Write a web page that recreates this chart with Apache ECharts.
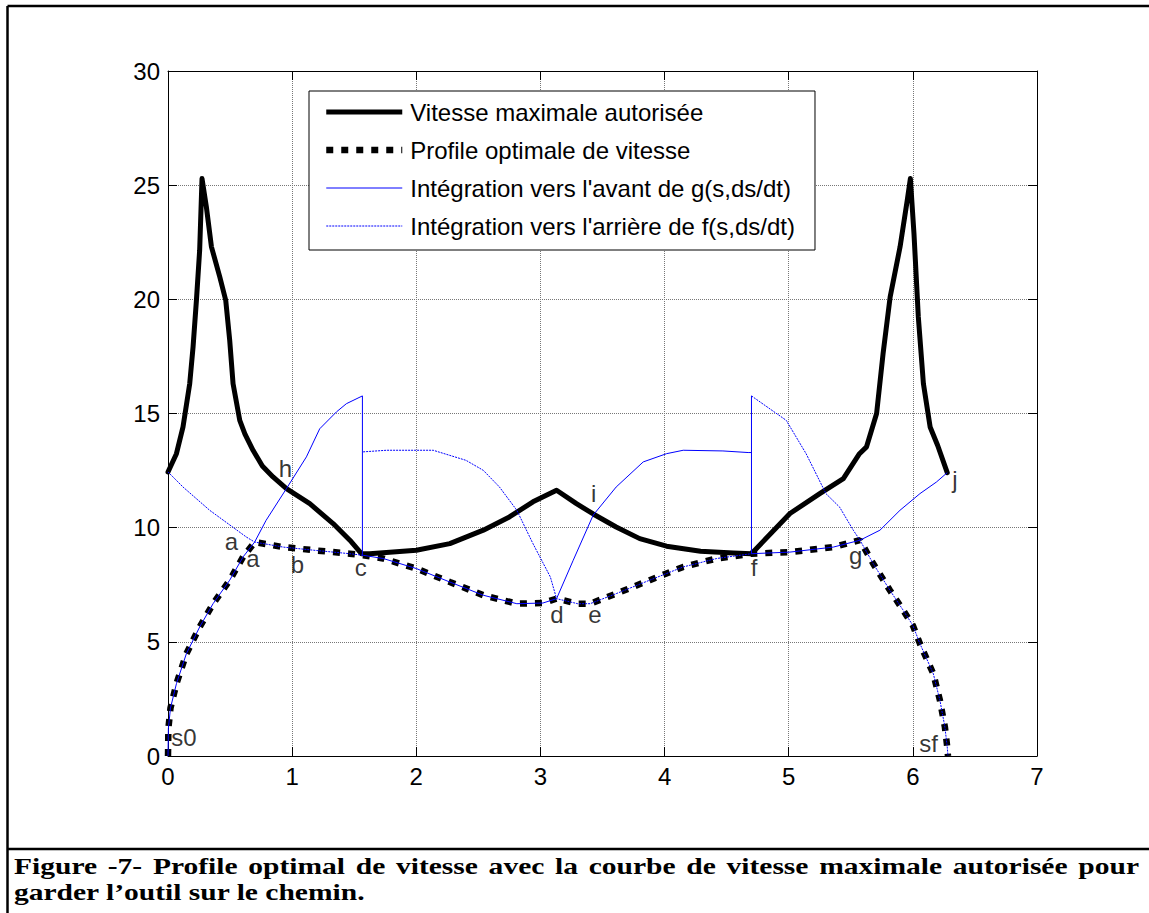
<!DOCTYPE html>
<html>
<head>
<meta charset="utf-8">
<script src="https://cdn.jsdelivr.net/npm/echarts@6/dist/echarts.min.js"></script>
<style>
  html, body { margin: 0; padding: 0; background: #fff; }
  #chart { width: 1149px; height: 913px; }
</style>
</head>
<body>
<div id="chart"></div>
<script>
// Abscisse curviligne s et vitesse ds/dt, couples [s, v]

// Vitesse maximale autorisée
const vitesseMax = [
  [0, 12.44], [0.068, 13.24], [0.121, 14.41], [0.175, 16.31], [0.202, 17.92],
  [0.229, 19.96], [0.255, 22.15], [0.274, 25.29], [0.309, 24.05], [0.35, 22.3],
  [0.417, 20.98], [0.465, 19.96], [0.497, 18.21], [0.524, 16.31], [0.578, 14.7],
  [0.62, 14.1], [0.685, 13.39], [0.76, 12.7], [0.846, 12.22], [0.954, 11.71],
  [1.142, 11.05], [1.33, 10.18], [1.465, 9.45], [1.558, 8.86], [1.625, 8.86],
  [2.0, 9.01], [2.27, 9.3], [2.54, 9.89], [2.75, 10.47], [2.94, 11.13],
  [3.13, 11.64], [3.29, 11.05], [3.425, 10.6], [3.61, 10.03], [3.8, 9.52],
  [4.016, 9.19], [4.29, 8.97], [4.553, 8.89], [4.7, 8.86], [5.01, 10.62],
  [5.25, 11.49], [5.44, 12.15], [5.57, 13.24], [5.627, 13.54], [5.708, 15.0],
  [5.76, 17.62], [5.817, 20.1], [5.897, 22.3], [5.955, 24.34], [5.98, 25.29],
  [6.009, 22.88], [6.044, 19.23], [6.085, 16.31], [6.139, 14.41], [6.2, 13.6],
  [6.277, 12.41]
];

// Profil optimal de vitesse
const profilOptimal = [
  [0, 0], [0.003, 1.2], [0.02, 2.1], [0.068, 3.17], [0.148, 4.48], [0.255, 5.65],
  [0.363, 6.67], [0.497, 7.7], [0.605, 8.72], [0.698, 9.37], [0.927, 9.15],
  [1.196, 9.0], [1.464, 8.86], [1.572, 8.79], [1.733, 8.65], [2.0, 8.21],
  [2.27, 7.62], [2.54, 7.04], [2.81, 6.67], [3.02, 6.7], [3.13, 6.89],
  [3.3, 6.67], [3.4, 6.67], [3.61, 7.11], [3.88, 7.7], [4.15, 8.28],
  [4.42, 8.65], [4.7, 8.86], [5.01, 8.93], [5.36, 9.15], [5.574, 9.45],
  [5.68, 8.43], [5.815, 7.26], [5.92, 6.4], [6.0, 5.72], [6.057, 4.92],
  [6.165, 3.6], [6.218, 2.44], [6.258, 1.27], [6.277, 0.39], [6.283, 0]
];

// Intégration vers l'avant : s0 -> a -> h -> saut en c
const avant1 = [
  [0, 0], [0.003, 1.2], [0.02, 2.1], [0.068, 3.17], [0.148, 4.48], [0.255, 5.65],
  [0.363, 6.67], [0.497, 7.7], [0.605, 8.72], [0.698, 9.37], [0.79, 10.32],
  [0.954, 11.71], [1.115, 13.1], [1.222, 14.33], [1.357, 15.07], [1.437, 15.43],
  [1.566, 15.77], [1.566, 8.79]
];
// c -> d -> i -> palier avant f
const avant2 = [
  [1.572, 8.79], [1.733, 8.65], [2.0, 8.21], [2.27, 7.62], [2.54, 7.04],
  [2.81, 6.67], [3.02, 6.7], [3.13, 6.89], [3.264, 8.57], [3.425, 10.55],
  [3.61, 11.78], [3.828, 12.88], [4.016, 13.24], [4.15, 13.39], [4.47, 13.36],
  [4.673, 13.29], [4.7, 13.29]
];
// saut en f -> g -> j
const avant3 = [
  [4.7, 15.77], [4.7, 8.86], [5.01, 8.93], [5.36, 9.15], [5.574, 9.45],
  [5.735, 9.89], [5.896, 10.76], [6.057, 11.49], [6.19, 12.0], [6.277, 12.41]
];

// Intégration vers l'arrière : départ s=0 -> a -> b -> c
const arriere1 = [
  [0, 12.44], [0.121, 11.78], [0.336, 10.76], [0.631, 9.59], [0.698, 9.37],
  [0.927, 9.15], [1.196, 9.0], [1.464, 8.86], [1.572, 8.79]
];
// palier après c -> d -> e -> f
const arriere2 = [
  [1.572, 13.32], [1.76, 13.39], [2.136, 13.39], [2.4, 12.95], [2.54, 12.51],
  [2.67, 11.78], [2.81, 10.76], [2.94, 9.3], [3.08, 7.84], [3.13, 6.89],
  [3.3, 6.67], [3.4, 6.67], [3.61, 7.11], [3.88, 7.7], [4.15, 8.28],
  [4.42, 8.65], [4.7, 8.86]
];
// après f -> g -> sf
const arriere3 = [
  [4.7, 15.77], [4.98, 14.7], [5.14, 13.24], [5.3, 11.49], [5.41, 10.9],
  [5.52, 9.89], [5.574, 9.45], [5.68, 8.43], [5.815, 7.26], [5.92, 6.4],
  [6.0, 5.72], [6.057, 4.92], [6.165, 3.6], [6.218, 2.44], [6.258, 1.27],
  [6.277, 0.39], [6.283, 0]
];

// Points remarquables du profil
const pointNames = ['a', 'a', 'b', 'c', 'h', 'i', 'd', 'e', 's0', 'f', 'g', 'sf', 'j'];
const pointS = [0.511, 0.685, 1.043, 1.553, 0.946, 3.428, 3.132, 3.438, 0.129, 4.722, 5.54, 6.127, 6.339];
const pointV = [9.38, 8.66, 8.40, 8.27, 12.60, 11.49, 6.20, 6.18, 0.83, 8.25, 8.78, 0.54, 12.1];

// Graduations
const xMin = 0, xMax = 7, xStep = 1;
const yMin = 0, yMax = 30, yStep = 5;

const seriesNames = [
  'Vitesse maximale autorisée',
  'Profile optimale de vitesse',
  "Intégration vers l'avant de g(s,ds/dt)",
  "Intégration vers l'arrière de f(s,ds/dt)"
];

const captionLine1 = 'Figure -7- Profile optimal de vitesse avec la courbe de vitesse maximale autorisée pour';
const captionLine2 = 'garder l’outil sur le chemin.';

const SANS = 'Liberation Sans';
const SERIF = 'Liberation Serif';
const BLUE = '#0000ff';

const styleMax = { color: '#000', width: 5, type: 'solid', cap: 'round', join: 'round' };
const styleOpt = { color: '#000', width: 6.5, type: [7, 8], cap: 'butt' };
const styleAvant = { color: BLUE, width: 1, type: 'solid' };
const styleArriere = { color: BLUE, width: 1, type: [2, 1] };
const lineStyles = [styleMax, styleOpt, styleAvant, styleArriere];

function lineSeries(idx, data) {
  return {
    type: 'line', name: seriesNames[idx], data, symbol: 'none', smooth: false,
    lineStyle: lineStyles[idx], itemStyle: { color: lineStyles[idx].color },
    silent: true, animation: false
  };
}

const series = [
  lineSeries(0, vitesseMax),
  lineSeries(1, profilOptimal),
  lineSeries(2, avant1),
  lineSeries(2, avant2),
  lineSeries(2, avant3),
  lineSeries(3, arriere1),
  lineSeries(3, arriere2),
  lineSeries(3, arriere3),
  {
    type: 'scatter', name: 'points',
    data: pointNames.map((n, i) => ({ name: n, value: [pointS[i], pointV[i]] })),
    symbol: 'circle', symbolSize: 1,
    itemStyle: { color: 'rgba(0,0,0,0)' },
    label: {
      show: true, position: 'inside', formatter: '{b}',
      fontSize: 24, fontFamily: SANS, color: '#000'
    },
    silent: true, animation: false, z: 5
  }
];

// Légende du document : mots justifiés sur la première ligne
const captionScale = 1.23;
const captionSize = 24;
const measureCtx = document.createElement('canvas').getContext('2d');
measureCtx.font = 'bold ' + captionSize + 'px "' + SERIF + '"';

function captionText(text, x, y) {
  return {
    type: 'text', x, y, scaleX: captionScale, silent: true,
    style: {
      text, fontFamily: SERIF, fontWeight: 'bold', fontSize: captionSize,
      fill: '#000', verticalAlign: 'middle', align: 'left'
    }
  };
}

function justifiedLine(text, left, right, y) {
  const words = text.split(' ');
  const widths = words.map(w => measureCtx.measureText(w).width * captionScale);
  const total = widths.reduce((a, b) => a + b, 0);
  const gap = (right - left - total) / (words.length - 1);
  let x = left;
  return words.map((w, i) => {
    const el = captionText(w, x, y);
    x += widths[i] + gap;
    return el;
  });
}

const frame = { stroke: '#000', lineWidth: 2.5 };
const graphics = [
  { type: 'line', shape: { x1: 7.5, y1: 6, x2: 1149, y2: 6 }, style: frame, silent: true },
  { type: 'line', shape: { x1: 7.5, y1: 6, x2: 7.5, y2: 913 }, style: frame, silent: true },
  { type: 'line', shape: { x1: 7.5, y1: 849, x2: 1149, y2: 849 }, style: frame, silent: true },
  ...justifiedLine(captionLine1, 14, 1139, 866),
  captionText(captionLine2, 14, 892)
];

const gridLine = { show: true, lineStyle: { color: '#777', width: 1, type: [1, 1] } };
const tickIn = { show: true, inside: true, length: 9, lineStyle: { color: '#000', width: 1 } };
const axisLineBlack = { show: true, onZero: false, lineStyle: { color: '#000', width: 1 } };

const chart = echarts.init(document.getElementById('chart'), null, { renderer: 'svg' });
chart.setOption({
  animation: false,
  backgroundColor: '#fff',
  grid: { left: 168, top: 71, width: 869, height: 685, containLabel: false },
  xAxis: [
    {
      type: 'value', min: xMin, max: xMax, interval: xStep, position: 'bottom',
      axisLine: axisLineBlack, axisTick: tickIn, splitLine: gridLine,
      axisLabel: { fontSize: 24, fontFamily: SANS, color: '#000', margin: 8 }
    },
    {
      type: 'value', min: xMin, max: xMax, interval: xStep, position: 'top',
      axisLine: axisLineBlack, axisTick: tickIn, splitLine: { show: false },
      axisLabel: { show: false }
    }
  ],
  yAxis: [
    {
      type: 'value', min: yMin, max: yMax, interval: yStep, position: 'left',
      axisLine: axisLineBlack, axisTick: tickIn, splitLine: gridLine,
      axisLabel: { fontSize: 24, fontFamily: SANS, color: '#000', margin: 8 }
    },
    {
      type: 'value', min: yMin, max: yMax, interval: yStep, position: 'right',
      axisLine: axisLineBlack, axisTick: tickIn, splitLine: { show: false },
      axisLabel: { show: false }
    }
  ],
  legend: {
    data: seriesNames.map((name, i) => ({
      name,
      lineStyle: {
        color: lineStyles[i].color, width: lineStyles[i].width,
        type: lineStyles[i].type, cap: 'butt'
      }
    })),
    orient: 'vertical', left: 309, top: 91,
    padding: [9, 20, 12, 14],
    itemWidth: 76, itemHeight: 14, itemGap: 14,
    itemStyle: { opacity: 0 },
    backgroundColor: '#fff', borderColor: '#000', borderWidth: 1,
    selectedMode: false,
    textStyle: { fontSize: 24, lineHeight: 24, fontFamily: SANS, color: '#000', padding: [0, 0, 0, 3] }
  },
  series,
  graphic: graphics
});
</script>
</body>
</html>
